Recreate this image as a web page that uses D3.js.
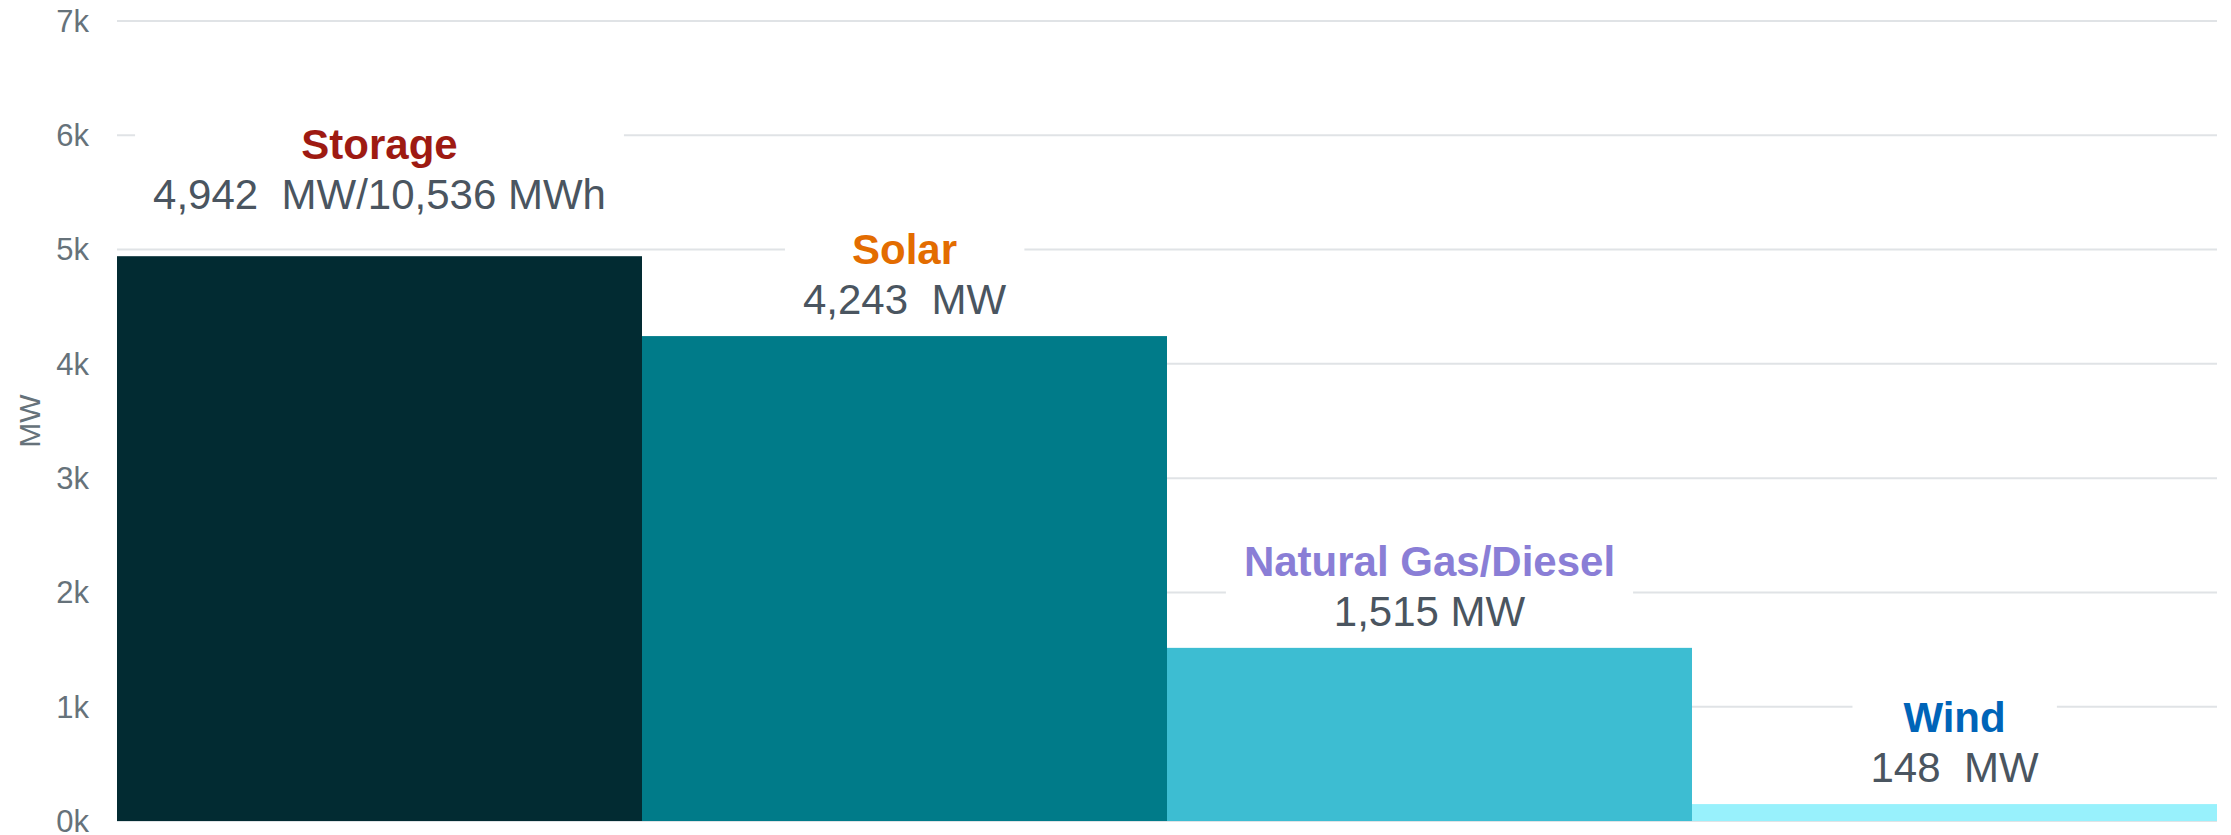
<!DOCTYPE html>
<html>
<head>
<meta charset="utf-8">
<script src="https://cdn.jsdelivr.net/npm/d3@7"></script>
<style>
  html, body { margin: 0; padding: 0; background: #fff; }
  svg { display: block; font-family: 'Liberation Sans', Arial, sans-serif; }
  .grid line { stroke: #e0e3e6; stroke-width: 2; }
  .tick-label { fill: #66727a; font-size: 31px; }
  .axis-title { fill: #66727a; font-size: 30px; }
  .cat-label { font-size: 42px; font-weight: bold; }
  .val-label { fill: #4a5560; font-size: 42px; white-space: pre; }
</style>
</head>
<body>
<svg id="chart"></svg>
<script>
const categories = ['Storage', 'Solar', 'Natural Gas/Diesel', 'Wind'];
const capacityMW = [4942, 4243, 1515, 148];
const valueLabels = ['4,942  MW/10,536 MWh', '4,243  MW', '1,515 MW', '148  MW'];
const barColors = ['#022b32', '#007b89', '#3dbdd2', '#98f1fc'];
const labelColors = ['#9e1a12', '#e36c00', '#8a7ed6', '#0064b8'];
const yTicks = [0, 1000, 2000, 3000, 4000, 5000, 6000, 7000];

const width = 2231;
const height = 835;
const margin = { top: 21, right: 14, bottom: 14, left: 117 };

const svg = d3.select('#chart').attr('width', width).attr('height', height);

const x = d3.scaleBand()
  .domain(categories)
  .range([margin.left, width - margin.right])
  .padding(0);

const y = d3.scaleLinear()
  .domain([0, 7000])
  .range([height - margin.bottom, margin.top]);

// gridlines
svg.append('g')
  .attr('class', 'grid')
  .selectAll('line')
  .data(yTicks)
  .join('line')
  .attr('x1', margin.left)
  .attr('x2', width - margin.right)
  .attr('y1', (d) => y(d))
  .attr('y2', (d) => y(d));

// y axis labels
svg.append('g')
  .selectAll('text')
  .data(yTicks)
  .join('text')
  .attr('class', 'tick-label')
  .attr('x', margin.left - 28)
  .attr('y', (d) => y(d))
  .attr('dy', '0.35em')
  .attr('text-anchor', 'end')
  .text((d) => `${d / 1000}k`);

svg.append('text')
  .attr('class', 'axis-title')
  .attr('transform', `translate(40,${(y(0) + y(7000)) / 2}) rotate(-90)`)
  .attr('text-anchor', 'middle')
  .text('MW');

// bars
svg.append('g')
  .selectAll('rect')
  .data(categories)
  .join('rect')
  .attr('x', (d) => x(d))
  .attr('y', (d, i) => y(capacityMW[i]))
  .attr('width', x.bandwidth())
  .attr('height', (d, i) => y(0) - y(capacityMW[i]))
  .attr('fill', (d, i) => barColors[i]);

// data labels with white boxes
const labels = svg.append('g')
  .selectAll('g')
  .data(categories)
  .join('g')
  .attr('transform', (d, i) => {
    const lift = i === 0 ? 25 : 0;
    const valueBase = y(capacityMW[i]) - 22 - lift;
    return `translate(${x(d) + x.bandwidth() / 2},${valueBase})`;
  });

labels.append('text')
  .attr('class', 'cat-label')
  .attr('y', -50)
  .attr('text-anchor', 'middle')
  .attr('fill', (d, i) => labelColors[i])
  .text((d) => d);

labels.append('text')
  .attr('class', 'val-label')
  .attr('text-anchor', 'middle')
  .text((d, i) => valueLabels[i]);

labels.each(function () {
  const g = d3.select(this);
  const box = this.getBBox();
  g.insert('rect', ':first-child')
    .attr('x', box.x - 18)
    .attr('y', -92)
    .attr('width', box.width + 36)
    .attr('height', 104)
    .attr('fill', '#fff');
});
</script>
</body>
</html>
